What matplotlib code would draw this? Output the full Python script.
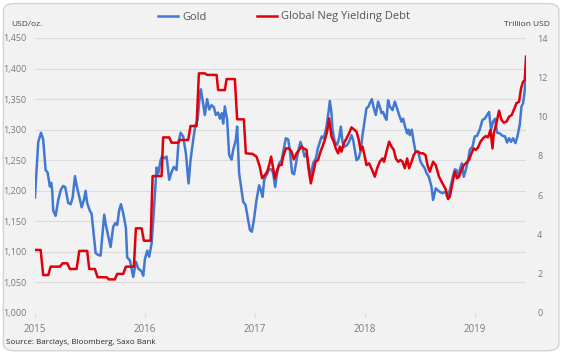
import numpy as np
import matplotlib
matplotlib.use("Agg")
import matplotlib.pyplot as plt
from matplotlib.patches import FancyBboxPatch
from matplotlib.ticker import FuncFormatter

plt.rcParams['font.family'] = ['Open Sans', 'DejaVu Sans']

# Gold price, USD/oz (x = years since 1 Jan 2015)
gold_t = [0.000, 0.030, 0.055, 0.075, 0.097, 0.115, 0.136, 0.148, 0.157, 0.166,
          0.188, 0.212, 0.236, 0.257, 0.275, 0.303, 0.325, 0.343, 0.364, 0.379,
          0.403, 0.425, 0.445, 0.461, 0.475, 0.500, 0.515, 0.530, 0.552, 0.575,
          0.597, 0.615, 0.630, 0.645, 0.664, 0.688, 0.712, 0.730, 0.748, 0.766,
          0.782, 0.803, 0.827, 0.839, 0.864, 0.894, 0.918, 0.939, 0.970, 0.985,
          1.000, 1.021, 1.039, 1.061, 1.082, 1.106, 1.121, 1.143, 1.157, 1.179,
          1.197, 1.221, 1.243, 1.264, 1.288, 1.306, 1.325, 1.348, 1.373, 1.397,
          1.415, 1.439, 1.457, 1.479, 1.500, 1.509, 1.525, 1.545, 1.566, 1.585,
          1.606, 1.627, 1.645, 1.666, 1.682, 1.700, 1.712, 1.727, 1.748, 1.766,
          1.788, 1.803, 1.827, 1.839, 1.857, 1.879, 1.894, 1.915, 1.939, 1.955,
          1.973, 1.991, 2.015, 2.039, 2.055, 2.070, 2.085, 2.106, 2.130, 2.152,
          2.166, 2.185, 2.197, 2.221, 2.243, 2.264, 2.282, 2.303, 2.318, 2.339,
          2.357, 2.379, 2.397, 2.415, 2.434, 2.452, 2.470, 2.488, 2.506, 2.530,
          2.555, 2.573, 2.591, 2.609, 2.627, 2.652, 2.670, 2.682, 2.697, 2.706,
          2.727, 2.748, 2.766, 2.782, 2.797, 2.818, 2.839, 2.857, 2.879, 2.894,
          2.909, 2.925, 2.943, 2.961, 2.979, 2.997, 3.015, 3.034, 3.045, 3.064,
          3.082, 3.100, 3.121, 3.136, 3.152, 3.166, 3.182, 3.197, 3.212, 3.227,
          3.252, 3.273, 3.288, 3.312, 3.334, 3.348, 3.366, 3.385, 3.397, 3.409,
          3.427, 3.439, 3.461, 3.485, 3.506, 3.525, 3.545, 3.561, 3.582, 3.606,
          3.621, 3.645, 3.675, 3.706, 3.736, 3.748, 3.773, 3.797, 3.818, 3.834,
          3.852, 3.864, 3.882, 3.900, 3.918, 3.939, 3.955, 3.979, 4.000, 4.021,
          4.045, 4.070, 4.091, 4.112, 4.130, 4.148, 4.166, 4.185, 4.203, 4.227,
          4.252, 4.275, 4.294, 4.312, 4.330, 4.348, 4.370, 4.388, 4.409, 4.425,
          4.439, 4.452, 4.464]
gold = [1189, 1280, 1295, 1284, 1234, 1230, 1207, 1213, 1201, 1168,
        1159, 1185, 1202, 1208, 1206, 1180, 1178, 1189, 1224, 1209,
        1190, 1173, 1185, 1200, 1180, 1167, 1163, 1136, 1098, 1095,
        1094, 1130, 1161, 1144, 1128, 1108, 1141, 1147, 1144, 1168,
        1178, 1163, 1140, 1091, 1086, 1059, 1084, 1073, 1068, 1061,
        1088, 1102, 1092, 1114, 1169, 1238, 1228, 1250, 1257, 1253,
        1256, 1218, 1231, 1239, 1234, 1280, 1295, 1289, 1261, 1212,
        1250, 1283, 1305, 1316, 1357, 1366, 1348, 1324, 1350, 1333,
        1340, 1337, 1324, 1328, 1318, 1327, 1310, 1338, 1316, 1259,
        1251, 1267, 1283, 1305, 1229, 1201, 1182, 1177, 1152, 1136,
        1133, 1152, 1185, 1209, 1201, 1190, 1218, 1226, 1235, 1235,
        1229, 1206, 1223, 1245, 1250, 1269, 1286, 1284, 1267, 1229,
        1227, 1250, 1267, 1280, 1269, 1256, 1261, 1242, 1223, 1245,
        1253, 1269, 1280, 1289, 1286, 1305, 1329, 1347, 1327, 1300,
        1280, 1275, 1286, 1305, 1280, 1272, 1275, 1280, 1291, 1283,
        1267, 1250, 1253, 1264, 1291, 1313, 1335, 1338, 1343, 1350,
        1335, 1324, 1346, 1338, 1327, 1329, 1321, 1316, 1348, 1338,
        1332, 1346, 1338, 1324, 1313, 1318, 1305, 1294, 1300, 1291,
        1300, 1286, 1264, 1264, 1248, 1242, 1237, 1229, 1223, 1207,
        1185, 1204, 1199, 1196, 1199, 1190, 1201, 1220, 1235, 1234,
        1223, 1234, 1245, 1223, 1234, 1250, 1267, 1272, 1289, 1290,
        1300, 1316, 1318, 1324, 1329, 1300, 1313, 1318, 1295, 1294,
        1290, 1289, 1279, 1286, 1280, 1286, 1278, 1289, 1308, 1338,
        1343, 1360, 1384]

# Global negative yielding debt, trillion USD
debt_t = [0.000, 0.052, 0.075, 0.121, 0.143, 0.227, 0.252, 0.294, 0.318, 0.379,
          0.403, 0.475, 0.494, 0.545, 0.570, 0.652, 0.673, 0.727, 0.748, 0.803,
          0.827, 0.900, 0.918, 0.970, 0.991, 1.052, 1.070, 1.152, 1.166, 1.221,
          1.243, 1.303, 1.318, 1.394, 1.415, 1.470, 1.491, 1.545, 1.566, 1.652,
          1.666, 1.727, 1.743, 1.818, 1.839, 1.900, 1.918, 1.979, 2.015, 2.045,
          2.066, 2.091, 2.112, 2.130, 2.148, 2.161, 2.182, 2.203, 2.221, 2.243,
          2.257, 2.282, 2.312, 2.334, 2.355, 2.379, 2.403, 2.425, 2.445, 2.470,
          2.488, 2.509, 2.530, 2.552, 2.575, 2.597, 2.615, 2.636, 2.657, 2.675,
          2.697, 2.718, 2.736, 2.757, 2.773, 2.788, 2.809, 2.834, 2.857, 2.879,
          2.900, 2.925, 2.945, 2.961, 2.979, 3.000, 3.015, 3.039, 3.064, 3.091,
          3.112, 3.136, 3.161, 3.175, 3.197, 3.221, 3.243, 3.264, 3.282, 3.303,
          3.325, 3.343, 3.364, 3.385, 3.403, 3.425, 3.445, 3.464, 3.485, 3.506,
          3.530, 3.552, 3.570, 3.591, 3.621, 3.645, 3.675, 3.706, 3.736, 3.757,
          3.773, 3.797, 3.818, 3.839, 3.857, 3.879, 3.900, 3.925, 3.948, 3.970,
          3.991, 4.009, 4.030, 4.052, 4.075, 4.100, 4.121, 4.143, 4.161, 4.173,
          4.197, 4.221, 4.243, 4.264, 4.288, 4.312, 4.336, 4.361, 4.379, 4.403,
          4.421, 4.439, 4.455, 4.466]
debt = [3.21, 3.21, 1.93, 1.93, 2.36, 2.36, 2.53, 2.53, 2.24, 2.24,
        3.16, 3.16, 2.24, 2.24, 1.82, 1.82, 1.71, 1.71, 1.99, 1.99,
        2.36, 2.36, 4.31, 4.31, 3.68, 3.68, 6.97, 6.97, 8.94, 8.94,
        8.67, 8.67, 8.81, 8.81, 9.52, 9.52, 12.2, 12.2, 12.12, 12.12,
        11.35, 11.35, 11.91, 11.91, 9.86, 9.86, 8.13, 8.10, 7.96, 7.45,
        6.86, 7.02, 7.19, 7.53, 7.96, 7.53, 6.86, 7.28, 7.53, 7.53,
        7.96, 8.38, 8.38, 8.21, 7.82, 8.13, 8.30, 8.47, 8.38, 8.30,
        7.37, 6.60, 7.11, 7.70, 7.79, 8.21, 8.47, 8.81, 9.23, 9.90,
        8.98, 8.72, 8.38, 8.13, 8.47, 8.21, 8.64, 8.89, 9.15, 9.45,
        9.35, 9.23, 8.81, 8.30, 8.47, 7.96, 7.53, 7.62, 7.32, 6.94,
        7.37, 7.70, 7.87, 7.70, 8.21, 8.72, 8.47, 8.30, 7.87, 7.70,
        7.79, 7.70, 7.37, 7.87, 7.37, 7.70, 8.04, 8.21, 8.21, 8.13,
        8.13, 8.04, 7.53, 7.19, 7.70, 7.53, 6.94, 6.60, 6.30, 5.80,
        5.92, 6.60, 7.19, 6.86, 6.94, 7.28, 7.53, 7.65, 7.79, 8.13,
        8.38, 8.30, 8.43, 8.72, 8.89, 9.01, 8.94, 9.32, 8.38, 9.15,
        9.66, 10.30, 9.83, 9.69, 9.74, 9.99, 10.08, 10.42, 10.68, 10.76,
        11.44, 11.77, 11.86, 13.05]

years = [2015, 2016, 2017, 2018, 2019]
gold_ticks = [1000, 1050, 1100, 1150, 1200, 1250, 1300, 1350, 1400, 1450]
debt_ticks = [0, 2, 4, 6, 8, 10, 12, 14]

BLUE = '#4179d2'
RED = '#e0000b'
GRID = '#dcdcdc'
LABEL = '#7a7a7a'

fig = plt.figure(figsize=(5.64, 3.55), dpi=100, facecolor='white')

# rounded grey panel behind everything
panel = FancyBboxPatch((0.006, 0.012), 0.985, 0.978,
                       boxstyle='round,pad=0,rounding_size=0.02',
                       transform=fig.transFigure, facecolor='#f2f2f2',
                       edgecolor='#d4d4d4', linewidth=1.0, zorder=-10)
fig.patches.append(panel)

ax = fig.add_axes([34.5 / 564, 1 - 313 / 355, (526 - 34.5) / 564, 275 / 355])
ax.set_facecolor('none')
ax2 = ax.twinx()

gx = 2015 + np.array(gold_t)
dx = 2015 + np.array(debt_t)

ax.plot(gx, gold, color=BLUE, lw=1.8, solid_joinstyle='round', zorder=3)
ax2.plot(dx, debt, color=RED, lw=1.8, solid_joinstyle='round', zorder=3)

ax.set_xlim(2014.996, 2019.466)
ax.set_ylim(1000, 1450)
ax2.set_ylim(0, 14)

ax.set_yticks(gold_ticks)
ax.yaxis.set_major_formatter(FuncFormatter(lambda v, p: f'{int(v):,}'))
ax2.set_yticks(debt_ticks)
ax.set_xticks(years)
ax.set_xticklabels([str(y) for y in years])

ax.grid(axis='y', color=GRID, lw=0.8)
ax.set_axisbelow(True)
for a in (ax, ax2):
    for s in a.spines.values():
        s.set_visible(False)

ax.tick_params(axis='y', length=0, pad=6, labelsize=6.5, labelcolor=LABEL)
ax2.tick_params(axis='y', length=0, pad=8, labelsize=6.5, labelcolor=LABEL)
ax.tick_params(axis='x', length=3, width=0.8, color=GRID, pad=5,
               labelsize=7, labelcolor=LABEL)

# axis unit labels
fig.text(11 / 564, 1 - 24 / 355, 'USD/oz.', fontsize=6, color='#3a3a3a',
         ha='left', va='center')
fig.text(550 / 564, 1 - 24 / 355, 'Trillion USD', fontsize=6, color='#3a3a3a',
         ha='right', va='center')

# legend
h1, = ax.plot([], [], color=BLUE, lw=1.8)
h2, = ax.plot([], [], color=RED, lw=1.8)
fig.legend([h1, h2], ['Gold', 'Global Neg Yielding Debt'], ncol=2,
           loc='center', bbox_to_anchor=(284 / 564, 1 - 17 / 355),
           frameon=False, fontsize=8, handlelength=1.8, handletextpad=0.4,
           columnspacing=4.5, labelcolor='#555555')

fig.text(6 / 564, 1 - 343 / 355, 'Source: Barclays, Bloomberg, Saxo Bank',
         fontsize=5.8, color='#2a2a2a', ha='left', va='center')

fig.savefig('out.png', dpi=100, facecolor='white')
